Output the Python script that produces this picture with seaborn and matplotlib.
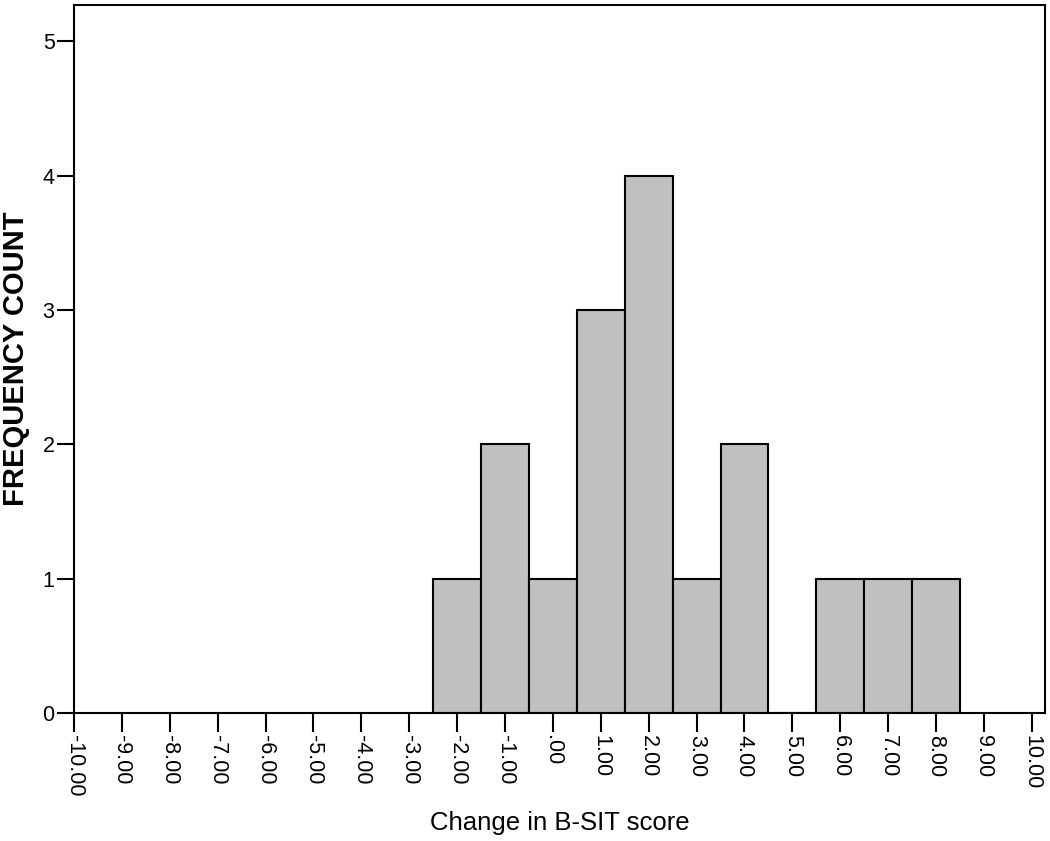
import numpy as np
import pandas as pd
import matplotlib
matplotlib.use("Agg")
import matplotlib.pyplot as plt
import seaborn as sns

# Change in B-SIT score (bin centre) and how many subjects fell in each bin
score_change = [-2, -1, 0, 1, 2, 3, 4, 5, 6, 7, 8]
frequency = [1, 2, 1, 3, 4, 1, 2, 0, 1, 1, 1]

x_ticks = list(range(-10, 11))
x_tick_labels = [".00" if t == 0 else f"{t:.2f}" for t in x_ticks]
y_ticks = [0, 1, 2, 3, 4, 5]

sns.set_style("ticks", {"text.color": "black", "xtick.color": "black",
                        "ytick.color": "black", "axes.labelcolor": "black"})
plt.rcParams["font.family"] = ["Liberation Sans", "DejaVu Sans"]

df = pd.DataFrame({"change": score_change, "count": frequency})

fig = plt.figure(figsize=(10.5, 8.41), dpi=100)
ax = fig.add_axes([0.0705, 0.152, 0.9245, 0.842])

sns.histplot(data=df, x="change", weights="count", discrete=True,
             color="#c0c0c0", alpha=1.0, edgecolor="black", linewidth=1.5, ax=ax)

ax.set_xlim(-10, 10.27)
ax.set_ylim(0, 5.27)
ax.set_xticks(x_ticks)
ax.set_xticklabels(x_tick_labels, rotation=-90, fontsize=15.5)
ax.set_yticks(y_ticks)
ax.set_yticklabels([str(v) for v in y_ticks], fontsize=15.5)
ax.tick_params(axis="x", length=14, width=1.5, pad=2, colors="black")
ax.tick_params(axis="y", length=12, width=1.5, pad=2, colors="black")

for side in ["left", "right", "top", "bottom"]:
    ax.spines[side].set_visible(True)
    ax.spines[side].set_linewidth(1.5)
    ax.spines[side].set_color("black")

ax.set_xlabel("Change in B-SIT score", fontsize=18.5, labelpad=10, color="black")
ax.set_ylabel("FREQUENCY COUNT", fontsize=21, fontweight="bold", color="black")
ax.yaxis.label.set_va("center")
ax.yaxis.set_label_coords(-0.06, 0.5)

fig.savefig("out.png", dpi=100)
plt.close(fig)
